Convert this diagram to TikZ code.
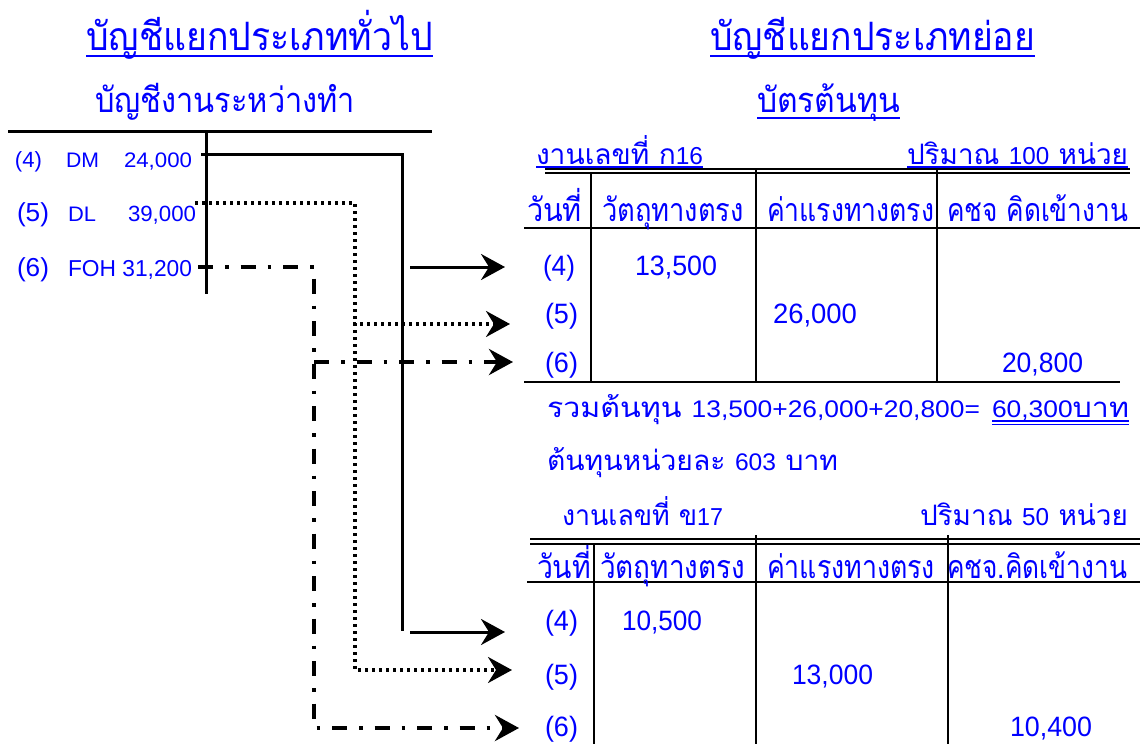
\documentclass[tikz,border=0pt]{standalone}
\usepackage{fontspec}
\setmainfont{Liberation Sans}
\newfontfamily\thaifont[Script=Thai,Scale=1.15]{Loma}
\usetikzlibrary{arrows.meta}
\newcommand\T[1]{{\thaifont #1}}
\newcommand\fitw[2]{\resizebox{#1pt}{\height}{#2}}
\newcommand\fs[1]{\fontsize{#1}{#1}\selectfont}
\begin{document}
\begin{tikzpicture}[x=1pt,y=-1pt,
  txt/.style={anchor=base west,inner sep=0pt,outer sep=0pt,text=blue,font=\fs{28}},
  ttl/.style={txt,font=\fs{34}},
  sub/.style={txt,font=\fs{30}},
  hdr/.style={txt,font=\fs{28}},
  lbl/.style={txt,font=\fs{24.5}},
  sml/.style={txt,font=\fs{21}},
  uline/.style={draw=blue,line width=2.2pt},
  duline/.style={draw=blue,line width=1.3pt},
  tline/.style={line width=2pt},
  tacc/.style={line width=3pt},
  solidc/.style={line width=3pt},
  dotc/.style={line width=3.2pt,dash pattern=on 3pt off 4pt},
  dashdotc/.style={line width=4pt,dash pattern=on 15pt off 12pt on 3.5pt off 12pt},
  arr/.style={-{Stealth[length=24pt,width=26pt,inset=8pt]}}]
\useasboundingbox (0,0) rectangle (1141,744);

% titles
\node[ttl] (gtitle) at (86,50) {\fitw{347}{\T{บัญชีแยกประเภททั่วไป}}};
\draw[uline] ([yshift=-6pt]gtitle.base west) -- ([yshift=-6pt]gtitle.base east);
\node[ttl] (stitle) at (710,50) {\fitw{325}{\T{บัญชีแยกประเภทย่อย}}};
\draw[uline] ([yshift=-6pt]stitle.base west) -- ([yshift=-6pt]stitle.base east);
\node[sub] (wip) at (95,112) {\fitw{260}{\T{บัญชีงานระหว่างทำ}}};
\node[sub] (card) at (757,112) {\fitw{143}{\T{บัตรต้นทุน}}};
\draw[uline] ([yshift=-6pt]card.base west) -- ([yshift=-6pt]card.base east);

% T account
\coordinate (tl) at (8,131);
\coordinate (tr) at (432,131);
\coordinate (tt) at (206,131);
\coordinate (tb) at (206,294);
\draw[tacc] (tl) -- (tr);
\draw[tacc] (tt) -- (tb);

\node[txt,font=\fs{22}] (l4a) at (15,167) {\fitw{27}{(4)}};
\node[sml] (l4b) at (66,167) {\fitw{33}{DM}};
\node[sml] (l4c) at (124,167) {\fitw{68}{24,000}};
\node[txt,font=\fs{26}] (l5a) at (17,221) {\fitw{32}{(5)}};
\node[sml] (l5b) at (68,221) {\fitw{28}{DL}};
\node[txt,font=\fs{22}] (l5c) at (128,221) {\fitw{68}{39,000}};
\node[txt,font=\fs{26}] (l6a) at (17,276) {\fitw{32}{(6)}};
\node[txt,font=\fs{23}] (l6b) at (68,276) {\fitw{124}{FOH 31,200}};

% table 1
\node[lbl] (j1) at (536,164) {\fitw{167}{\T{งานเลขที่ ก}16}};
\draw[uline,line width=1.5pt] ([yshift=-3pt]j1.base west) -- ([yshift=-3pt]j1.base east);
\node[lbl] (q1) at (907,164) {\fitw{221}{\T{ปริมาณ }100\T{ หน่วย}}};
\draw[uline,line width=1.5pt] ([yshift=-3pt]q1.base west) -- ([yshift=-3pt]q1.base east);
\draw[tline] (545,169) -- (1130,169);
\draw[tline] (545,173) -- (1130,173);
\draw[tline] (591,172) -- (591,382);
\draw[tline] (756,170) -- (756,382);
\draw[tline] (937,170) -- (937,382);
\draw[tline] (524,228) -- (1140,228);
\draw[tline] (524,382) -- (1120,382);
\node[hdr] (h1a) at (527,221) {\fitw{55}{\T{วันที่}}};
\node[hdr] (h1b) at (602,221) {\fitw{142}{\T{วัตถุทางตรง}}};
\node[hdr] (h1c) at (767,221) {\fitw{167}{\T{ค่าแรงทางตรง}}};
\node[hdr] (h1d) at (947,221) {\fitw{181}{\T{คชจ คิดเข้างาน}}};
\node[txt] (r14) at (543,275) {\fitw{32}{(4)}};
\node[txt] (v14) at (635,275) {\fitw{82}{13,500}};
\node[txt] (r15) at (545,323) {\fitw{33}{(5)}};
\node[txt] (v15) at (773,323) {\fitw{84}{26,000}};
\node[txt] (r16) at (545,372) {\fitw{33}{(6)}};
\node[txt] (v16) at (1002,372) {\fitw{81}{20,800}};

% totals
\node[lbl,font=\fs{24}] (sum) at (547,417) {\fitw{433}{\T{รวมต้นทุน }13,500+26,000+20,800=}};
\node[lbl,font=\fs{24}] (tot) at (992,417) {\fitw{137}{60,300\T{บาท}}};
\draw[duline] ([yshift=-4pt]tot.base west) -- ([yshift=-4pt]tot.base east);
\draw[duline] ([yshift=-7.5pt]tot.base west) -- ([yshift=-7.5pt]tot.base east);
\node[lbl,font=\fs{24}] (unit) at (547,470) {\fitw{291}{\T{ต้นทุนหน่วยละ }603\T{ บาท}}};

% table 2
\node[lbl] (j2) at (562,525) {\fitw{161}{\T{งานเลขที่ ข}17}};
\node[lbl] (q2) at (920,525) {\fitw{208}{\T{ปริมาณ }50\T{ หน่วย}}};
\draw[tline] (530,539) -- (1140,539);
\draw[tline] (530,544) -- (1140,544);
\draw[tline] (594,544) -- (594,744);
\draw[tline] (756,535) -- (756,744);
\draw[tline] (948,535) -- (948,744);
\draw[tline] (527,582) -- (1140,582);
\node[hdr] (h2a) at (537,578) {\fitw{54}{\T{วันที่}}};
\node[hdr] (h2b) at (600,578) {\fitw{145}{\T{วัตถุทางตรง}}};
\node[hdr] (h2c) at (767,578) {\fitw{168}{\T{ค่าแรงทางตรง}}};
\node[hdr] (h2d) at (947,578) {\fitw{180}{\T{คชจ.คิดเข้างาน}}};
\node[txt] (r24) at (545,630) {\fitw{33}{(4)}};
\node[txt] (v24) at (622,630) {\fitw{80}{10,500}};
\node[txt] (r25) at (545,684) {\fitw{33}{(5)}};
\node[txt] (v25) at (792,684) {\fitw{81}{13,000}};
\node[txt] (r26) at (545,736) {\fitw{33}{(6)}};
\node[txt] (v26) at (1010,736) {\fitw{82}{10,400}};

% connectors
\coordinate (s0) at (201,154);
\coordinate (s1) at (402,154);
\coordinate (s2) at (402,631);
\coordinate (sa1) at (410,267);
\coordinate (sb1) at (505,267);
\coordinate (sa2) at (410,632);
\coordinate (sb2) at (505,632);
\draw[solidc] (s0) -- (s1) -- (s2);
\draw[solidc,arr] (sa1) -- (sb1);
\draw[solidc,arr] (sa2) -- (sb2);

\coordinate (d0) at (195,203);
\coordinate (d1) at (355,203);
\coordinate (d2) at (355,670);
\coordinate (d3) at (512,670);
\coordinate (da) at (353,324);
\coordinate (db) at (510,324);
\draw[dotc,arr] (d0) -- (d1) -- (d2) -- (d3);
\draw[dotc,arr] (da) -- (db);

\coordinate (c0) at (198,267);
\coordinate (c1) at (314,267);
\coordinate (c2) at (314,728);
\coordinate (c3) at (519,728);
\coordinate (ca) at (314,362);
\coordinate (cb) at (513,362);
\draw[dashdotc,arr] (c0) -- (c1) -- (c2) -- (c3);
\draw[dashdotc,arr] (ca) -- (cb);
\end{tikzpicture}
\end{document}
